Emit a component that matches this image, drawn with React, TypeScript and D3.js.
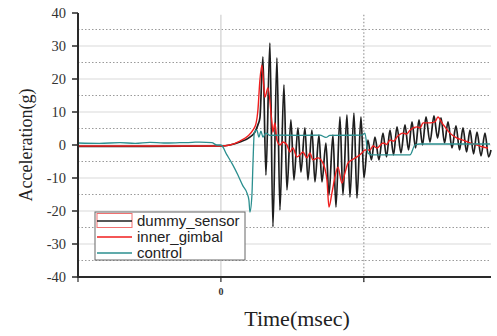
import React from "react";
import * as d3 from "d3";

// time in msec, acceleration in g
const dummySensor: [number, number][] = [
  [-100, -0.4], [-50, -0.4], [0, -0.3], [6.3, 0], [13.3, 0.9], [20.3, 2.4], [23.8, 3.9], [25.9, 6.1],
  [27.3, 8.2], [29.4, 26.7], [31.5, -9.1], [34.3, 30.9], [36.4, -24.8], [39.2, 26.4], [41.3, -19.7],
  [44.1, 18.2], [46.2, -13.6], [49.0, 7.6], [51.1, -10.6], [53.9, 5.2], [56.0, -8.2], [58.8, 5.2],
  [60.9, -10.6], [63.7, 4.5], [65.8, -11.2], [68.6, 3.0], [70.7, -11.2], [73.5, 0.6], [75.6, -15.2],
  [78.4, 3.0], [80.5, -18.8], [83.3, 8.5], [85.4, -15.2], [88.2, 9.1], [90.3, -15.8], [93.1, 9.7],
  [95.2, -16.1], [98.0, 8.5], [100.1, -10.0], [102.9, 1.5], [105.3, -4.5], [107.8, 2.4], [110.6, -4.5],
  [113.4, 3.6], [115.9, -3.6], [118.3, 4.5], [120.8, -3.0], [123.2, 5.5], [126.0, -2.4], [128.8, 6.1],
  [131.3, -1.5], [133.7, 7.0], [136.2, -0.9], [138.6, 7.6], [141.1, 0], [143.5, 8.5], [146.3, 0.9],
  [149.1, 8.8], [151.6, 2.1], [154.0, 8.2], [156.5, 0.6], [158.9, 7.0], [161.7, -0.9], [164.5, 5.8],
  [167.0, -1.5], [169.4, 5.2], [171.9, -2.1], [174.3, 4.5], [176.8, -2.7], [179.2, 3.9], [182.0, -3.3],
  [184.8, 3.6], [187.3, -3.6], [189, -1.5],
];

const innerGimbal: [number, number][] = [
  [-100, -0.3], [0, -0.3], [6.3, 0], [13.3, 1.2], [18.9, 2.7], [22.4, 4.5], [24.5, 6.4], [25.9, 10.6],
  [27.3, 19.7], [28.7, 24.2], [30.8, 14.5], [32.9, 17.3], [35.7, 6.7], [36.4, 3.9], [37.8, 6.7],
  [39.2, 1.5], [41.3, 0], [43.4, 0.9], [46.2, 0], [48.3, -2.1], [50.4, -0.9], [53.2, -3.6], [55.3, -3.0],
  [57.4, -2.1], [60.2, -3.9], [62.3, -2.4], [64.4, -4.5], [67.9, -3.9], [71.4, -5.5], [74.2, -10.6],
  [75.6, -18.8], [77.7, -14.5], [79.8, -9.7], [81.9, -6.7], [84.7, -11.5], [86.8, -8.5], [88.9, -5.5],
  [91.7, -4.5], [95.2, -3.6], [98.7, -2.4], [100.8, -1.5], [104.3, -1.5], [106.5, -0.3], [109.2, -0.9],
  [113.4, 0.6], [116.0, 0.2], [118.3, 1.5], [121.0, 1.2], [123.2, 2.4], [127.4, 3.6], [130.0, 3.3],
  [132.3, 4.5], [137.2, 5.5], [139.5, 5.2], [141.4, 6.7], [146.3, 6.7], [149.8, 7.0], [151.9, 8.5],
  [154.7, 6.7], [156.8, 5.5], [160.3, 3.6], [165.2, 2.1], [169.4, 1.5], [174.3, 0.6], [179.2, 0],
  [183.4, -0.6], [186.9, -0.9],
];

const control: [number, number][] = [
  [-100, 0.6], [-85, 0.5], [-70.6, 0.7], [-60, 0.5], [-49.7, 0.8], [-40, 0.6], [-28.7, 0.7],
  [-20, 0.8], [-14.7, 0.9], [-6.3, 0.7], [-2.8, 0], [0, 0], [4.2, -3.0], [8.4, -6.1], [11.9, -9.1],
  [15.4, -12.4], [18.2, -14.5], [19.6, -16.7], [20.3, -20.3], [21.7, -15.2], [22.4, -6.1], [23.4, 3.9],
  [25.2, 4.5], [26.6, 2.4], [28.0, 4.2], [29.4, 2.4], [31.5, 3.6], [34.3, 2.9], [41.3, 3.0], [55.3, 2.9],
  [69.3, 3.0], [73.5, 2.3], [76.3, 2.9], [98.7, 3.0], [100.8, 3.6], [102.9, -2.4], [105.7, -3.0],
  [132.3, -3.0], [135.8, 0], [139.3, 0.3], [188.3, 0.3],
];

const seriesNames = ["dummy_sensor", "inner_gimbal", "control"];
const seriesColors = ["#1e1e1e", "#f01e1e", "#2b8f8f"];

const yTicks = [-40, -30, -20, -10, 0, 10, 20, 30, 40];
const yMajorGrid = [-30, -20, -10, 0, 10, 20, 30];
const yMinorGrid = [-35, -25, -15, -5, 5, 15, 25, 35];
const xTicks = [-100, 0, 100];
const xTickLabels = ["", "0", ""];

const W = 497;
const H = 336;

export default function App() {
  const x = d3.scaleLinear().domain([-100, 189]).range([78, 491]);
  const y = d3.scaleLinear().domain([-40, 40]).range([277, 13]);
  const line = d3
    .line<[number, number]>()
    .x((d) => x(d[0]))
    .y((d) => y(d[1]))
    .curve(d3.curveMonotoneX);
  const data = [dummySensor, innerGimbal, control];
  const widths = [1.7, 1.4, 1.3];
  const serif = "'Liberation Serif', 'DejaVu Serif', serif";
  const sans = "'Liberation Sans', Arial, sans-serif";
  const x0 = x.range()[0];
  const x1 = x.range()[1];

  const legX = 95;
  const legY = 212;
  const rowY = [221, 237, 253];

  return (
    <svg width={W} height={H} style={{ position: "absolute", left: 0, top: 0, background: "#fff" }}>
      {/* grid */}
      {yMajorGrid.map((v) => (
        <line key={"g" + v} x1={x0} x2={x1} y1={y(v)} y2={y(v)} stroke="#d9d9d9" strokeWidth={1.2} />
      ))}
      {yMinorGrid.map((v) => (
        <line key={"m" + v} x1={x0} x2={x1} y1={y(v)} y2={y(v)} stroke="#9a9a9a" strokeWidth={1} strokeDasharray="1.5,2" />
      ))}
      <line x1={x(0)} x2={x(0)} y1={y(39.5)} y2={y(-40)} stroke="#d0d0d0" strokeWidth={1.2} />
      <line x1={x(100)} x2={x(100)} y1={y(39.5)} y2={y(-42)} stroke="#9a9a9a" strokeWidth={1.2} strokeDasharray="1.5,2" />

      {/* series */}
      {data.map((d, i) => (
        <path key={i} d={line(d) || ""} fill="none" stroke={seriesColors[i]} strokeWidth={widths[i]} strokeLinejoin="round" />
      ))}

      {/* axes */}
      <line x1={x0} x2={x0} y1={y(40)} y2={y(-40) + 1} stroke="#2a2a2a" strokeWidth={2} />
      <line x1={x0 - 1} x2={x1} y1={y(-40)} y2={y(-40)} stroke="#2a2a2a" strokeWidth={2} />
      {yTicks.map((v) => (
        <g key={"yt" + v}>
          <line x1={x0 - 6} x2={x0} y1={y(v)} y2={y(v)} stroke="#2a2a2a" strokeWidth={1.5} />
          <text x={x0 - 12} y={y(v)} dy="0.35em" textAnchor="end" fontFamily={serif} fontSize={14.5} fill="#333">
            {v}
          </text>
        </g>
      ))}
      {xTicks.map((v, i) => (
        <g key={"xt" + v}>
          <line x1={x(v)} x2={x(v)} y1={y(-40)} y2={y(-40) + 5} stroke="#2a2a2a" strokeWidth={1.2} />
          <text x={x(v)} y={y(-40) + 18} textAnchor="middle" fontFamily={serif} fontWeight="bold" fontSize={10} fill="#333">
            {xTickLabels[i]}
          </text>
        </g>
      ))}

      {/* axis titles */}
      <text
        transform={`translate(32,${y(0)}) rotate(-90)`}
        textAnchor="middle"
        fontFamily={serif}
        fontSize={18}
        fill="#222"
      >
        Acceleration(g)
      </text>
      <text x={297} y={326} textAnchor="middle" fontFamily={serif} fontSize={22} fill="#222">
        Time(msec)
      </text>

      {/* legend */}
      <rect x={legX} y={legY} width={150} height={48} fill="#fff" stroke="#666" strokeWidth={1} />
      <rect x={97} y={213.5} width={35} height={14} fill="none" stroke="#f07070" strokeWidth={1} />
      {seriesNames.map((n, i) => (
        <g key={n}>
          <line x1={97} x2={132} y1={rowY[i]} y2={rowY[i]} stroke={seriesColors[i]} strokeWidth={1.6} />
          <text x={137} y={rowY[i]} dy="0.35em" fontFamily={sans} fontSize={15} fill="#222">
            {n}
          </text>
        </g>
      ))}
    </svg>
  );
}
